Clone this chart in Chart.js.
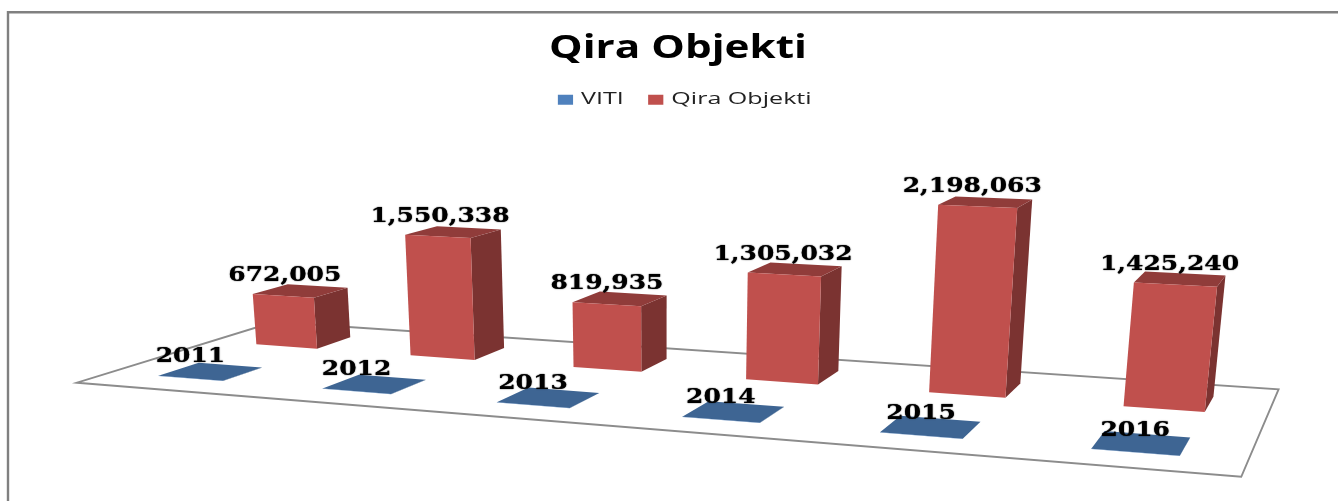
<!DOCTYPE html>
<html>
<head>
<meta charset="utf-8">
<style>
html,body{margin:0;padding:0;background:#fff;overflow:hidden}
canvas{display:block;filter:blur(0.45px)}
</style>
<script src="https://cdn.jsdelivr.net/npm/chart.js@4"></script>
</head>
<body>
<canvas id="c" width="1338" height="501"></canvas>
<script>
const categories = ['2011','2012','2013','2014','2015','2016'];
const vitiValues = [2011,2012,2013,2014,2015,2016];
const qiraValues = [672005,1550338,819935,1305032,2198063,1425240];
const seriesNames = ['VITI','Qira Objekti'];
const seriesColors = ['#4f81bd','#c0504d'];
const axisMax = 5000000;

// Perspective camera of the sloping floor: u across categories, v depth, z share of the y axis
const cam = {a:943.3,b:242.3,c:77,d:9.2,e:-7.4,f:382.7,g:-0.178,h:0.1655,r:-0.07275,vx:660,vy:5950};
function project(u,v,z){
  const w = cam.g*u + cam.h*v + 1 + cam.r*z;
  return [(cam.a*u + cam.b*v + cam.c + cam.r*cam.vx*z)/w,
          (cam.d*u + cam.e*v + cam.f + cam.r*cam.vy*z)/w];
}
const rowDepth = [[0.152,0.348],[0.65,0.846]];
const labelLift = [16.5,14.8];

function shade(hex,k){
  const n = parseInt(hex.slice(1),16);
  return 'rgb('+[(n>>16)&255,(n>>8)&255,n&255].map(c=>Math.round(c*k)).join(',')+')';
}
function face(ctx,pts,fill){
  ctx.beginPath();
  pts.forEach((p,i)=> i?ctx.lineTo(p[0],p[1]):ctx.moveTo(p[0],p[1]));
  ctx.closePath();
  ctx.fillStyle = fill;
  ctx.fill();
}
function barGeometry(chart,el){
  const ca = chart.chartArea;
  const p = el.getProps(['x','y','base','width'],true);
  return {
    u0:(p.x-p.width/2-ca.left)/ca.width,
    u1:(p.x+p.width/2-ca.left)/ca.width,
    z:(p.base-p.y)/ca.height
  };
}
function stretch(chart,box,sx,center){
  const ctx = chart.ctx, orig = box.draw.bind(box);
  box.draw = function(){
    ctx.save();
    ctx.translate(center,0);
    ctx.scale(sx,1);
    ctx.translate(-chart.width/2,0);
    orig();
    ctx.restore();
  };
}

const scene3d = {
  id:'scene3d',
  beforeDraw(chart){
    if(!chart.$stretched){
      chart.$stretched = true;
      stretch(chart,chart.titleBlock,1.32,678);
      stretch(chart,chart.legend,1.52,687);
    }
    const ctx = chart.ctx;
    ctx.save();
    ctx.strokeStyle = '#808080';
    ctx.lineWidth = 2.4;
    ctx.beginPath();
    ctx.moveTo(8,501); ctx.lineTo(8,12.2); ctx.lineTo(1338,12.2);
    ctx.stroke();
    ctx.restore();
  },
  beforeDatasetsDraw(chart){
    const ctx = chart.ctx;
    ctx.save();
    ctx.beginPath();
    [[0,0],[1,0],[1,1],[0,1]].forEach((c,i)=>{
      const p = project(c[0],c[1],0);
      i?ctx.lineTo(p[0],p[1]):ctx.moveTo(p[0],p[1]);
    });
    ctx.closePath();
    ctx.strokeStyle = '#8c8c8c';
    ctx.lineWidth = 1.9;
    ctx.stroke();
    ctx.restore();
  },
  beforeDatasetDraw(chart,args){
    const ctx = chart.ctx, i = args.index, color = seriesColors[i];
    const [v0,v1] = rowDepth[i];
    ctx.save();
    args.meta.data.forEach(el=>{
      const {u0,u1,z} = barGeometry(chart,el);
      face(ctx,[project(u1,v0,0),project(u1,v1,0),project(u1,v1,z),project(u1,v0,z)],shade(color,0.64));
      face(ctx,[project(u0,v0,z),project(u1,v0,z),project(u1,v1,z),project(u0,v1,z)],shade(color,i===0?0.78:0.75));
      face(ctx,[project(u0,v0,0),project(u1,v0,0),project(u1,v0,z),project(u0,v0,z)],color);
    });
    ctx.restore();
    return false;
  },
  afterDatasetsDraw(chart){
    const ctx = chart.ctx;
    ctx.save();
    ctx.fillStyle = '#000';
    ctx.shadowColor = '#000';
    ctx.shadowBlur = 1.2;
    ctx.font = 'bold 20.5px "DejaVu Serif"';
    ctx.textAlign = 'center';
    ctx.textBaseline = 'alphabetic';
    chart.data.datasets.forEach((ds,i)=>{
      chart.getDatasetMeta(i).data.forEach((el,j)=>{
        const {u0,u1,z} = barGeometry(chart,el);
        const top = project((u0+u1)/2,rowDepth[i][0],z);
        const foot = project((u0+u1)/2,rowDepth[i][0],0);
        const txt = i===0 ? String(ds.data[j]) : ds.data[j].toLocaleString('en-US');
        ctx.save();
        ctx.translate((top[0]+foot[0])/2,top[1]-labelLift[i]);
        ctx.scale(1.22,1);
        ctx.fillText(txt,0,0);
        ctx.restore();
      });
    });
    ctx.restore();
  }
};

new Chart(document.getElementById('c'),{
  type:'bar',
  data:{
    labels:categories,
    datasets:[
      {label:seriesNames[0],data:vitiValues,backgroundColor:seriesColors[0],borderColor:seriesColors[0],borderWidth:6},
      {label:seriesNames[1],data:qiraValues,backgroundColor:seriesColors[1],borderColor:seriesColors[1],borderWidth:6}
    ]
  },
  options:{
    responsive:false,
    animation:false,
    events:[],
    layout:{padding:0},
    datasets:{bar:{grouped:false,barPercentage:0.4,categoryPercentage:1}},
    scales:{
      x:{display:false},
      y:{display:false,min:0,max:axisMax}
    },
    plugins:{
      tooltip:{enabled:false},
      title:{
        display:true,
        text:'Qira Objekti',
        color:'#000',
        font:{family:'"Open Sans"',size:32,weight:'bold'},
        padding:{top:30,bottom:4}
      },
      legend:{
        display:true,
        position:'top',
        labels:{
          color:'#222',
          font:{family:'"Open Sans"',size:16.5},
          boxWidth:4,
          boxHeight:4,
          padding:19
        }
      }
    }
  },
  plugins:[scene3d]
});
</script>
</body>
</html>
